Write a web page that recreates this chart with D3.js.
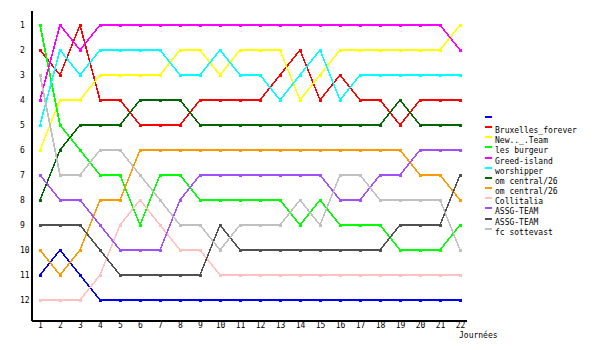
<!DOCTYPE html>
<html>
<head>
<meta charset="utf-8">
<script src="https://cdn.jsdelivr.net/npm/d3@7"></script>
<style>
  body { margin: 0; background: #fff; }
  svg { display: block; }
  text { font-family: "DejaVu Sans Mono", monospace; font-size: 8px; fill: #000; }
</style>
</head>
<body>
<svg id="chart" width="600" height="350"></svg>
<script>
// journées 1..22
const days = [1,2,3,4,5,6,7,8,9,10,11,12,13,14,15,16,17,18,19,20,21,22];
const rankTicks = [1,2,3,4,5,6,7,8,9,10,11,12];

const teams = ["", "Bruxelles_forever", "New.._.Team", "les burgeur", "Greed-island", "worshipper",
  "om central/26", "om central/26", "Collitalia", "ASSG-TEAM", "ASSG-TEAM", "fc sottevast"];
const colors = ["#0000ff", "#ff0000", "#ffff00", "#00ff00", "#ff00ff", "#00ffff",
  "#006600", "#ff9900", "#ffc0c0", "#a050ff", "#505050", "#c0c0c0"];

// classement par journée
const rBlue    = [11,10,11,12,12,12,12,12,12,12,12,12,12,12,12,12,12,12,12,12,12,12];
const rRed     = [2,3,1,4,4,5,5,5,4,4,4,4,3,2,4,3,4,4,5,4,4,4];
const rYellow  = [6,4,4,3,3,3,3,2,2,3,2,2,2,4,3,2,2,2,2,2,2,1];
const rGreen   = [1,5,6,7,7,9,7,7,8,8,8,8,8,9,8,9,9,9,10,10,10,9];
const rMagenta = [4,1,2,1,1,1,1,1,1,1,1,1,1,1,1,1,1,1,1,1,1,2];
const rCyan    = [5,2,3,2,2,2,2,3,3,2,3,3,4,3,2,4,3,3,3,3,3,3];
const rDkGreen = [8,6,5,5,5,4,4,4,5,5,5,5,5,5,5,5,5,5,4,5,5,5];
const rOrange  = [10,11,10,8,8,6,6,6,6,6,6,6,6,6,6,6,6,6,6,7,7,8];
const rPink    = [12,12,12,11,9,8,9,10,10,11,11,11,11,11,11,11,11,11,11,11,11,11];
const rPurple  = [7,8,8,9,10,10,10,8,7,7,7,7,7,7,7,8,8,7,7,6,6,6];
const rDkGrey  = [9,9,9,10,11,11,11,11,11,9,10,10,10,10,10,10,10,10,9,9,9,7];
const rLtGrey  = [3,7,7,6,6,7,8,9,9,10,9,9,9,8,9,7,7,8,8,8,8,10];

const ranks = [rBlue, rRed, rYellow, rGreen, rMagenta, rCyan, rDkGreen, rOrange, rPink, rPurple, rDkGrey, rLtGrey];

const svg = d3.select("#chart");

var x = d3.scaleLinear()
    .domain([0.55, 22.3])
    .range([31, 466]);

var y = d3.scaleLinear()
    .domain([0.4, 12.8])
    .range([10, 320]);

// axes
var yAxis = d3.axisLeft(y).tickValues(rankTicks).tickSize(0).tickFormat(d3.format("d"));
var gy = svg.append("g")
    .attr("transform", "translate(31,0)")
    .call(yAxis);
gy.select(".domain").attr("stroke", "#000").attr("stroke-width", 2).attr("shape-rendering", "crispEdges");
gy.selectAll("text").attr("text-anchor", "start").attr("x", -11).attr("font-family", null).attr("font-size", null);

var xAxis = d3.axisBottom(x).tickValues(days).tickSize(0).tickPadding(2).tickFormat(d3.format("d"));
var gx = svg.append("g")
    .attr("transform", "translate(0,320)")
    .call(xAxis);
gx.select(".domain").attr("stroke", "#000").attr("stroke-width", 2).attr("shape-rendering", "crispEdges");
gx.selectAll("text").attr("font-family", null).attr("font-size", null);

svg.append("text")
    .attr("x", 459)
    .attr("y", 338)
    .text("Journées");

// lignes + marqueurs
const line = d3.line()
    .x((d, i) => x(days[i]))
    .y(d => y(d));

ranks.forEach(function(r, k) {
  const g = svg.append("g");
  g.append("path")
    .attr("d", line(r))
    .attr("fill", "none")
    .attr("stroke", colors[k])
    .attr("stroke-width", 1.6)
    .attr("shape-rendering", "crispEdges");
  g.selectAll("rect")
    .data(r)
    .join("rect")
    .attr("x", (d, i) => x(days[i]) - 1.5)
    .attr("y", d => y(d) - 1.5)
    .attr("width", 3)
    .attr("height", 3)
    .attr("fill", colors[k])
    .attr("shape-rendering", "crispEdges");
});

// légende
const leg = svg.append("g")
    .selectAll("g")
    .data(teams)
    .join("g")
    .attr("transform", (d, i) => "translate(485," + (117 + i * 10.15) + ")");
leg.append("line")
    .attr("x1", 0).attr("x2", 7)
    .attr("stroke", (d, i) => colors[i])
    .attr("stroke-width", 2)
    .attr("shape-rendering", "crispEdges");
leg.append("text")
    .attr("x", 10)
    .attr("y", 6)
    .text(d => d);
</script>
</body>
</html>
